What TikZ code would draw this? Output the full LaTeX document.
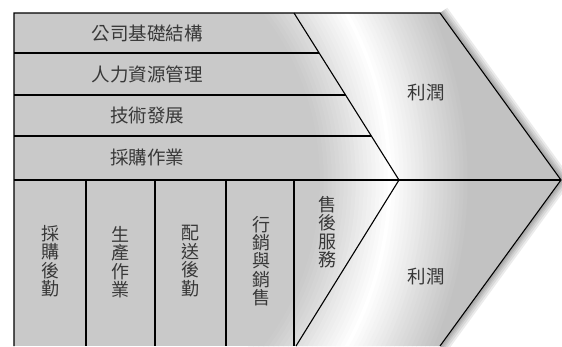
\documentclass[tikz,border=0pt]{standalone}
\usepackage{fontspec}
\newfontfamily\cjk{Noto Sans CJK TC}
\tikzset{
  frame/.style={line width=1.1pt, black},
  lbl/.style={font=\cjk\fontsize{18.5}{20}\selectfont, text=black!78, inner sep=0pt},
  vlbl/.style={lbl, align=center, text width=20pt, font=\cjk\fontsize{18}{18.4}\selectfont},
}
\begin{document}
\begin{tikzpicture}[x=1pt,y=-1pt]
\useasboundingbox (0,0) rectangle (562,346);
\clip (0,0) rectangle (562,346);
% shadow glow
\foreach \w in {18,14,10,7,4}{
  \draw[line width=\w pt, black, opacity=0.08, line join=miter] (440,13) -- (561,180) -- (440,346);
}
% metallic fill
\begin{scope}
\clip (14,13) -- (440,13) -- (561,180) -- (440,346) -- (14,346) -- cycle;
\fill[black!21] (0,0) rectangle (562,346);
\foreach \r in {264,268,...,532}{
  \pgfmathsetmacro\p{\r<344 ? 21*min(1,(344-\r)/70) : 24*min(1,(\r-344)/80)}
  \draw[line width=4.6pt, black!\p] (46,180) circle (\r);
}
\end{scope}
% outline
\coordinate (tl) at (14,13);
\coordinate (tr) at (440,13);
\coordinate (tip) at (561,180);
\coordinate (br) at (440,346);
\coordinate (bl) at (14,346);
\coordinate (dtop) at (294,13);
\coordinate (dmid) at (399,180);
\coordinate (dbot) at (296,346);
\coordinate (ml) at (14,180);
\draw[frame] (bl) -- (tl) -- (tr) -- (tip) -- (br);
\draw[frame] (dtop) -- (dmid) -- (dbot);
\draw[frame] (ml) -- (tip);
\draw[frame] (14,53) -- (319.2,53);
\draw[frame] (14,95) -- (345.6,95);
\draw[frame] (14,136) -- (371.3,136);
\foreach \x in {86,155,226,294}{
  \draw[frame] (\x,180) -- (\x,346);
}
% labels
\node[lbl] (s1) at (147,33) {公司基礎結構};
\node[lbl] (s2) at (147,74) {人力資源管理};
\node[lbl] (s3) at (147,115) {技術發展};
\node[lbl] (s4) at (147,157) {採購作業};
\node[lbl] (m1) at (426,93) {利潤};
\node[lbl] (m2) at (426,277) {利潤};
\node[vlbl] (p1) at (51,261) {採\\購\\後\\勤};
\node[vlbl] (p2) at (120,262) {生\\產\\作\\業};
\node[vlbl] (p3) at (190,261) {配\\送\\後\\勤};
\node[vlbl] (p4) at (261,261) {行\\銷\\與\\銷\\售};
\node[vlbl] (p5) at (327,232) {售\\後\\服\\務};
\end{tikzpicture}
\end{document}
